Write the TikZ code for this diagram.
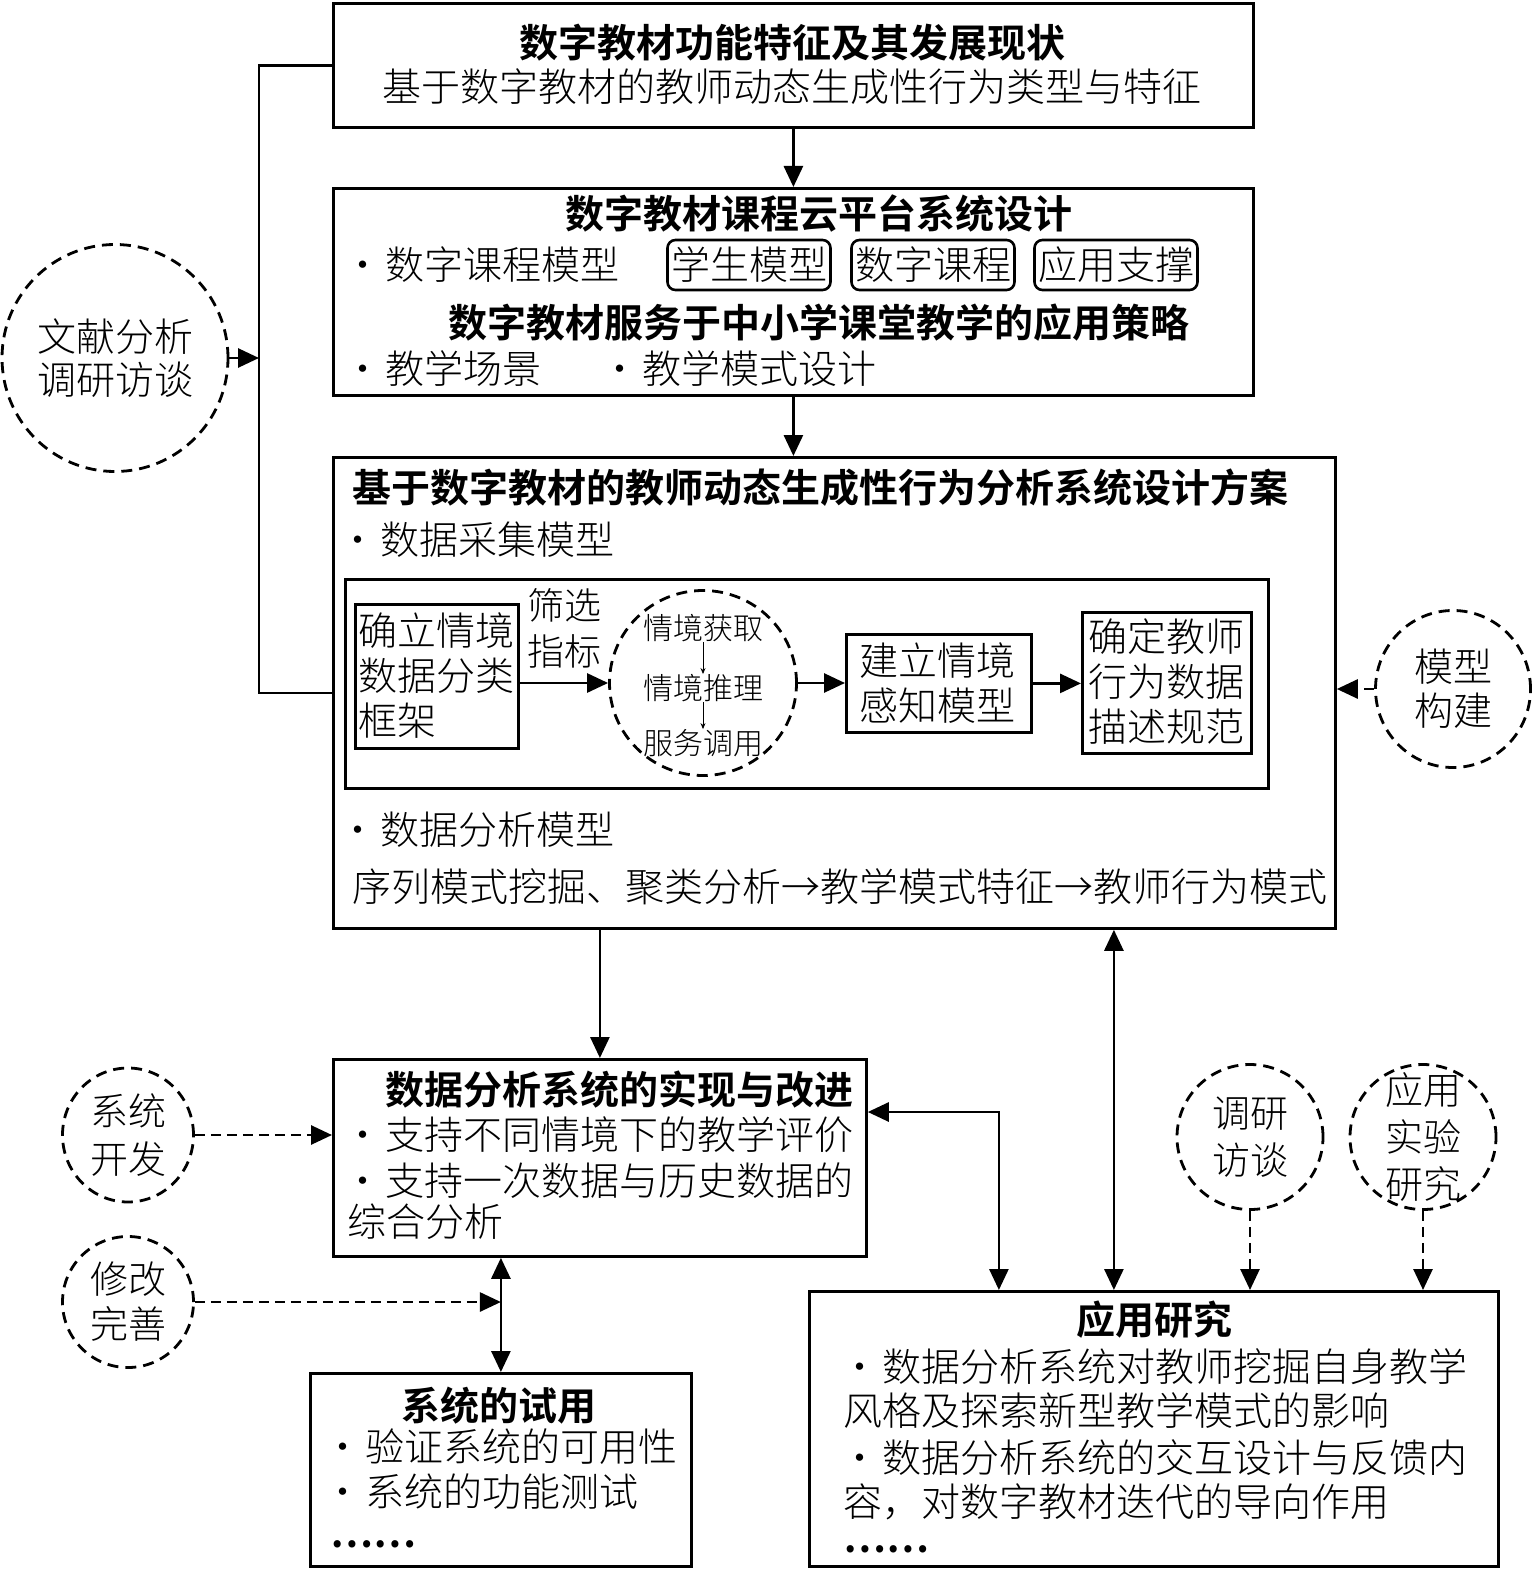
\documentclass[tikz,border=0pt]{standalone}
\usepackage{fontspec}
\setmainfont{Noto Sans CJK SC}[UprightFont={* Light}, BoldFont={* Bold}]
\usetikzlibrary{arrows.meta,shapes.geometric,calc}
\newcommand\bul{\makebox[44pt]{·}}
\begin{document}
\begin{tikzpicture}[x=1pt,y=-1pt,
  box/.style={draw, line width=2.8pt, inner sep=0pt, anchor=north west},
  rbox/.style={draw, line width=2.6pt, rounded corners=8pt, inner sep=0pt, minimum width=163pt, minimum height=50pt, font=\fontsize{39}{45}\selectfont},
  txt/.style={inner sep=0pt, font=\fontsize{39}{45}\selectfont, anchor=west},
  ttl/.style={inner sep=0pt, font=\fontsize{39}{45}\selectfont\bfseries, anchor=west},
  smalltxt/.style={inner sep=0pt, font=\fontsize{30}{34}\selectfont, anchor=center},
  dcirc/.style={draw, line width=2.8pt, dash pattern=on 11pt off 7pt, ellipse, inner sep=0pt},
  line/.style={line width=2.8pt},
  arr/.style={line width=2.8pt, -{Triangle[length=21pt,width=19pt]}},
  darr/.style={line width=2.8pt, {Triangle[length=21pt,width=19pt]}-{Triangle[length=21pt,width=19pt]}},
  dasharr/.style={arr, dash pattern=on 10pt off 6pt},
  thinarr/.style={line width=0.8pt, -{Stealth[length=6pt,width=5pt]}},
]
\fill[white] (0,0) rectangle (1536,1570);
\useasboundingbox (0,0) rectangle (1536,1570);

% ---------- box 1 ----------
\node[box, minimum width=920pt, minimum height=124pt] (b1) at (332,2) {};
\node[ttl, anchor=center] (t1a) at (792,43) {数字教材功能特征及其发展现状};
\node[txt, anchor=center] (t1b) at (792,87) {基于数字教材的教师动态生成性行为类型与特征};

% ---------- box 2 ----------
\node[box, minimum width=920pt, minimum height=207pt] (b2) at (332,187) {};
\node[ttl, anchor=center] (t2a) at (819,214) {数字教材课程云平台系统设计};
\node[txt] (t2b) at (341,265) {\bul 数字课程模型};
\node[rbox] (r1) at (749,265) {学生模型};
\node[rbox] (r2) at (933,265) {数字课程};
\node[rbox] (r3) at (1116,265) {应用支撑};
\node[ttl, anchor=center] (t2c) at (819,323) {数字教材服务于中小学课堂教学的应用策略};
\node[txt] (t2d) at (341,369) {\bul 教学场景};
\node[txt] (t2e) at (598,369) {\bul 教学模式设计};

% ---------- box 3 ----------
\node[box, minimum width=1002pt, minimum height=471pt] (b3) at (332,456) {};
\node[ttl] (t3a) at (352,488) {基于数字教材的教师动态生成性行为分析系统设计方案};
\node[txt] (t3b) at (336,540) {\bul 数据采集模型};
\node[box, minimum width=923pt, minimum height=209pt] (inner) at (344,578) {};
\node[box, minimum width=163pt, minimum height=144pt] (c1) at (354,603) {};
\node[txt, align=left] (c1t) at (358,676) {确立情境\\数据分类\\框架};
\node[txt, align=left, font=\fontsize{37}{46}\selectfont] (sx) at (527,628) {筛选\\指标};
\node[dcirc, minimum width=187pt, minimum height=185pt] (e0) at (703,683) {};
\node[smalltxt] (s1) at (703,628) {情境获取};
\node[smalltxt] (s2) at (703,688) {情境推理};
\node[smalltxt] (s3) at (703,743) {服务调用};
\node[box, minimum width=185pt, minimum height=98pt] (c3) at (845,633) {};
\node[txt, align=left] (c3t) at (859,683) {建立情境\\感知模型};
\node[box, minimum width=169pt, minimum height=141pt] (c4) at (1081,611) {};
\node[txt, align=left] (c4t) at (1088,682) {确定教师\\行为数据\\描述规范};
\node[txt] (t3c) at (336,830) {\bul 数据分析模型};
\node[txt] (t3d) at (352,887) {序列模式挖掘、聚类分析→教学模式特征→教师行为模式};

% ---------- box 4 ----------
\node[box, minimum width=533pt, minimum height=197pt] (b4) at (332,1058) {};
\node[ttl] (t4a) at (385,1090) {数据分析系统的实现与改进};
\node[txt] (t4b) at (341,1135) {\bul 支持不同情境下的教学评价};
\node[txt] (t4c) at (341,1181) {\bul 支持一次数据与历史数据的};
\node[txt] (t4d) at (347,1222) {综合分析};

% ---------- box 5 ----------
\node[box, minimum width=381pt, minimum height=193pt] (b5) at (309,1372) {};
\node[ttl, anchor=center] (t5a) at (499,1406) {系统的试用};
\node[txt] (t5b) at (321,1447) {\bul 验证系统的可用性};
\node[txt] (t5c) at (321,1492) {\bul 系统的功能测试};
\node[txt, font=\fontsize{39}{45}\selectfont\bfseries] (t5d) at (330,1544) {……};

% ---------- box 6 ----------
\node[box, minimum width=689pt, minimum height=275pt] (b6) at (808,1290) {};
\node[ttl, anchor=center] (t6a) at (1154,1320) {应用研究};
\node[txt] (t6b) at (838,1367) {\bul 数据分析系统对教师挖掘自身教学};
\node[txt] (t6c) at (843,1411) {风格及探索新型教学模式的影响};
\node[txt] (t6d) at (838,1458) {\bul 数据分析系统的交互设计与反馈内};
\node[txt] (t6e) at (843,1502) {容，对数字教材迭代的导向作用};
\node[txt, font=\fontsize{39}{45}\selectfont\bfseries] (t6f) at (843,1549) {……};

% ---------- dashed circles ----------
\node[dcirc, minimum width=226pt, minimum height=227pt] (e1) at (115,358) {};
\node[txt, anchor=center, align=center, font=\fontsize{39}{43}\selectfont] at (e1) {文献分析\\调研访谈};
\node[dcirc, minimum width=155pt, minimum height=157pt] (e2) at (1453,689) {};
\node[txt, anchor=center, align=center, font=\fontsize{39}{44}\selectfont] at (e2) {模型\\构建};
\node[dcirc, minimum width=131pt, minimum height=134pt] (e3) at (128,1135) {};
\node[txt, anchor=center, align=center, font=\fontsize{38}{48}\selectfont] at (e3) {系统\\开发};
\node[dcirc, minimum width=131pt, minimum height=131pt] (e4) at (128,1302) {};
\node[txt, anchor=center, align=center, font=\fontsize{38}{45}\selectfont] at (e4) {修改\\完善};
\node[dcirc, minimum width=146pt, minimum height=145pt] (e5) at (1250,1137) {};
\node[txt, anchor=center, align=center, font=\fontsize{38}{47}\selectfont] at (e5) {调研\\访谈};
\node[dcirc, minimum width=146pt, minimum height=145pt] (e6) at (1423,1137) {};
\node[txt, anchor=center, align=center, font=\fontsize{38}{47}\selectfont] at (e6) {应用\\实验\\研究};

% ---------- connectors ----------
\draw[arr] (b1.south) -- (b2.north);
\draw[arr] (b2.south) -- (b2.south |- b3.north);
\draw[line] (b1.west) -- ++(-73,0) |- (b3.west);
\coordinate (jl) at (259,358);
\draw[dasharr] (e1.east) -- (jl);
\draw[dasharr] (e2.west) -- (e2.west -| b3.east);
\draw[arr] (b4.north |- b3.south) -- (b4.north);
\draw[dasharr] (e3.east) -- (e3.east -| b4.west);
\draw[darr] (b5.north |- b4.south) -- (b5.north);
\draw[dasharr] (e4.east) -- (e4.east -| b5.north);
\draw[darr] ([yshift=-54pt]b4.north east) -| ([xshift=-155pt]b6.north);
\draw[darr] ([xshift=-40pt]b6.north |- b3.south) -- ([xshift=-40pt]b6.north);
\draw[dasharr] (e5.south) -- (e5.south |- b6.north);
\draw[dasharr] (e6.south) -- (e6.south |- b6.north);
% inner flow
\draw[arr] (c1.east |- e0.west) -- (e0.west);
\draw[arr] (e0.east) -- (e0.east -| c3.west);
\draw[arr] (c3.east) -- (c3.east -| c4.west);
\draw[thinarr] (s1) -- (s2);
\draw[thinarr] (s2) -- (s3);
\end{tikzpicture}
\end{document}
